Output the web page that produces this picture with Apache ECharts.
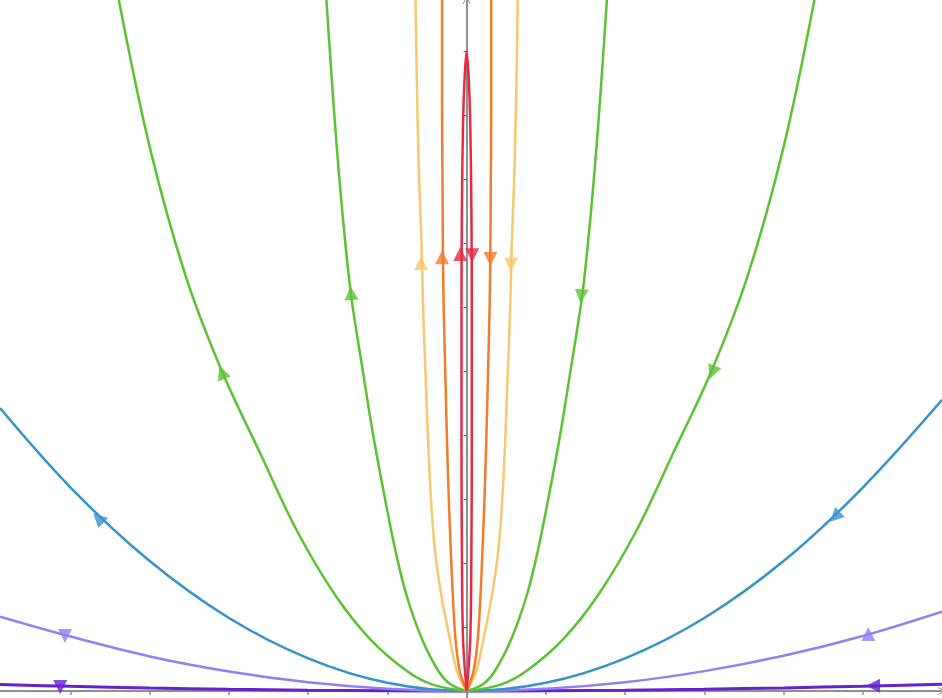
<!DOCTYPE html>
<html>
<head>
<meta charset="utf-8">
<script src="https://cdn.jsdelivr.net/npm/echarts@6/dist/echarts.min.js"></script>
<style>html,body{margin:0;padding:0;background:#fff;}#c{width:942px;height:698px;}</style>
</head>
<body>
<div id="c"></div>
<script>
// ---- data (axis units: x tick = 1, y tick = 1) ----
const xTicks = [-5, -4, -3, -2, -1, 0, 1, 2, 3, 4, 5];
const yTicks = [1, 2, 3, 4, 5, 6, 7, 8, 9, 10];

// near-vertical branches: heights and |x| offsets
const orangeY = [0, 0.3, 0.8, 1.5, 2.2, 3, 4, 5, 6, 7, 8, 9, 10, 10.8];
const orangeX = [0, 0.085, 0.14, 0.175, 0.2, 0.225, 0.25, 0.27, 0.29, 0.30, 0.305, 0.31, 0.31, 0.31];
const yellowY = [0, 0.3, 0.8, 1.5, 2.2, 3, 4, 5, 6, 7, 8, 9, 10, 10.8];
const yellowX = [0, 0.12, 0.21, 0.32, 0.40, 0.45, 0.49, 0.52, 0.55, 0.57, 0.60, 0.62, 0.635, 0.645];
const greenInY = [0, 0.1, 0.3, 0.8, 1.5, 2.2, 3, 4, 5, 6.2, 7.5, 9, 10.8];
const greenInX = [0, 0.2, 0.35, 0.56, 0.76, 0.9, 1.03, 1.18, 1.31, 1.46, 1.57, 1.67, 1.77];
const greenOutY = [0, 0.1, 0.3, 0.8, 1.5, 2.5, 3.7, 5.0, 6.5, 8.5, 10.8];
const greenOutX = [0, 0.43, 0.74, 1.21, 1.66, 2.14, 2.6, 3.09, 3.55, 4.0, 4.39];
// red closed loop
const redLoop = [[0,0],[-0.045,0.8],[-0.06,2.2],[-0.065,4],[-0.065,6],[-0.06,7.5],[-0.045,8.9],[-0.025,9.6],[0,10],
                 [0.025,9.6],[0.045,8.9],[0.06,7.5],[0.065,6],[0.065,4],[0.06,2.2],[0.045,0.8],[0,0]];
// wide branches over x
const wideX = [-5.89, -5, -4, -3, -2, -1, 0, 1, 2, 3, 4, 5, 6.0];
const blueY = [4.42, 3.18, 2.03, 1.14, 0.51, 0.127, 0, 0.127, 0.51, 1.14, 2.03, 3.18, 4.55];
const lilacY = [1.16, 0.85, 0.54, 0.305, 0.135, 0.034, 0, 0.034, 0.136, 0.31, 0.55, 0.86, 1.24];
const violetY = [0.10, 0.072, 0.046, 0.026, 0.012, 0.003, 0, 0.003, 0.012, 0.027, 0.048, 0.075, 0.105];

// direction arrows: [x, y, heading in degrees (counter-clockwise from up)]
const redArrows = [[-0.08, 6.83, 0], [0.07, 6.81, 180]];
const orangeArrows = [[-0.31, 6.78, 0], [0.30, 6.75, 180]];
const yellowArrows = [[-0.575, 6.69, 0], [0.56, 6.66, 180]];
const greenInArrows = [[-1.46, 6.22, 5], [1.446, 6.17, 175]];
const greenOutArrows = [[-3.09, 4.98, 21], [3.10, 4.98, 159]];
const blueArrows = [[-4.65, 2.70, 46], [4.65, 2.72, 134]];
const lilacArrows = [[-5.07, 0.86, 180], [5.07, 0.89, 0]];
const violetArrows = [[-5.13, 0.06, 180], [5.13, 0.08, 90]];

// ---- colours ----
const C = {
  red: '#e62a45', orange: '#f07c2c', yellow: '#f8c872', green: '#5cc233',
  blue: '#3692c8', lilac: '#8f80f4', violet: '#6722cf', axis: '#8f8f8f'
};

function branch(ys, xs, sign) { return ys.map((y, i) => [sign * xs[i], y]); }
function line(data, color, width) {
  return { type: 'line', data, symbol: 'none', smooth: 0.35, silent: true, z: 3,
    lineStyle: { color, width }, animation: false };
}
function arrows(list, color) {
  return { type: 'scatter', symbol: 'triangle', symbolSize: 14, z: 5, silent: true, animation: false,
    data: list.map(a => ({ value: [a[0], a[1]], symbolRotate: a[2] })),
    itemStyle: { color } };
}

const chevron = 'path://M0,10 L5,0 L10,10 L8.8,10 L5,2.4 L1.2,10 Z';

const series = [
  line(wideX.map((x, i) => [x, violetY[i]]), C.violet, 3),
  line(wideX.map((x, i) => [x, lilacY[i]]), C.lilac, 2.5),
  line(wideX.map((x, i) => [x, blueY[i]]), C.blue, 2.5),
  line(branch(greenOutY, greenOutX, -1), C.green, 2.5),
  line(branch(greenOutY, greenOutX, 1), C.green, 2.5),
  line(branch(greenInY, greenInX, -1), C.green, 2.5),
  line(branch(greenInY, greenInX, 1), C.green, 2.5),
  line(branch(yellowY, yellowX, -1), C.yellow, 2.5),
  line(branch(yellowY, yellowX, 1), C.yellow, 2.5),
  line(branch(orangeY, orangeX, -1), C.orange, 2.5),
  line(branch(orangeY, orangeX, 1), C.orange, 2.5),
  line(redLoop, C.red, 2.5),
  arrows(redArrows, C.red),
  arrows(orangeArrows, C.orange),
  arrows(yellowArrows, C.yellow),
  arrows(greenInArrows, C.green),
  arrows(greenOutArrows, C.green),
  arrows(blueArrows, C.blue),
  arrows(lilacArrows, C.lilac),
  arrows(violetArrows, C.violet)
];

const chart = echarts.init(document.getElementById('c'), null, { renderer: 'canvas' });
chart.setOption({
  animation: false,
  backgroundColor: '#ffffff',
  grid: { left: 0, right: 0, top: 0, bottom: 0, containLabel: false },
  xAxis: {
    type: 'value', min: -5.89, max: 6.0, splitLine: { show: false },
    axisLine: { onZero: true, symbol: ['none', chevron], symbolSize: [10, 8], lineStyle: { color: C.axis, width: 2 } },
    axisTick: { show: true, length: 4, customValues: xTicks, lineStyle: { color: C.axis, width: 1.5 } },
    axisLabel: { show: false }
  },
  yAxis: {
    type: 'value', min: -0.11, max: 10.8, splitLine: { show: false },
    axisLine: { onZero: true, symbol: ['none', chevron], symbolSize: [10, 8], lineStyle: { color: C.axis, width: 2 } },
    axisTick: { show: true, length: 3, customValues: yTicks, lineStyle: { color: '#666', width: 1.2 } },
    axisLabel: { show: false }
  },
  series
});
</script>
</body>
</html>
